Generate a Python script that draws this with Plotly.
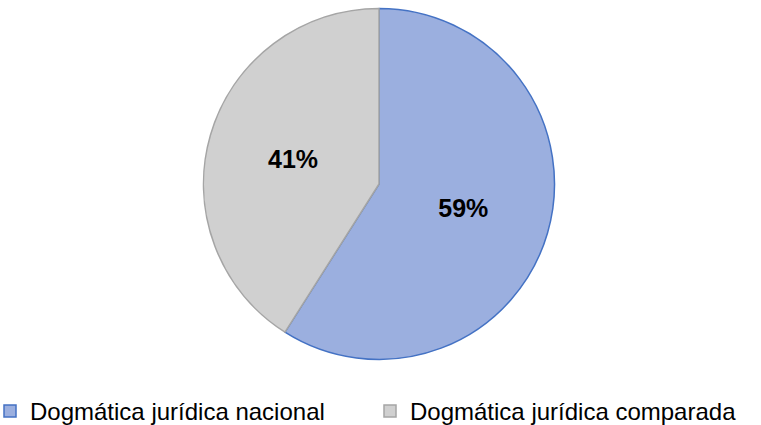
import plotly.graph_objects as go

labels = ["Dogmática jurídica nacional", "Dogmática jurídica comparada"]
values = [59, 41]
fill_colors = ["#9bafdf", "#d0d0d0"]
line_colors = ["#4472c4", "#a5a5a5"]

W, H = 761, 425
cx, cy, r = 379, 184, 175.5

fig = go.Figure(go.Pie(
    labels=labels,
    values=values,
    sort=False,
    direction="clockwise",
    rotation=0,
    marker=dict(colors=fill_colors, line=dict(color=line_colors, width=1.5)),
    textinfo="percent",
    texttemplate="<b>%{percent:.0%}</b>",
    textposition="inside",
    insidetextorientation="horizontal",
    textfont=dict(family="Liberation Sans, Arial, sans-serif", size=25, color="#000000"),
    domain=dict(x=[(cx - r) / W, (cx + r) / W], y=[(H - cy - r) / H, (H - cy + r) / H]),
    hoverinfo="label+percent",
))

fig.update_layout(
    width=W, height=H,
    margin=dict(l=0, r=0, t=0, b=0, autoexpand=False),
    paper_bgcolor="white",
    plot_bgcolor="white",
    showlegend=True,
    legend=dict(
        orientation="h",
        x=-10 / W, xanchor="left",
        y=-0.021, yanchor="bottom",
        font=dict(family="Liberation Sans, Arial, sans-serif", size=24, color="#000000"),
        entrywidth=335,
        entrywidthmode="pixels",
        traceorder="normal",
    ),
)

fig.write_html("out.html", config={"displayModeBar": False},
               post_script="document.body.style.margin='0';")
